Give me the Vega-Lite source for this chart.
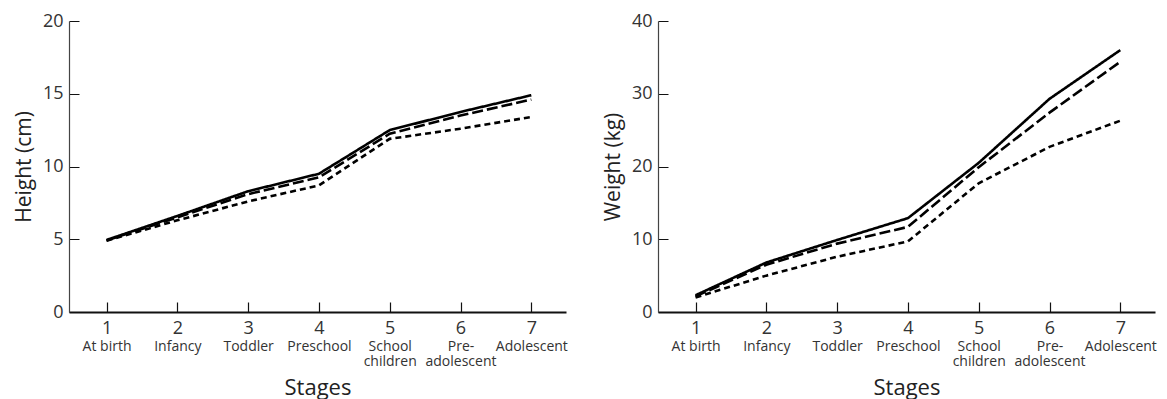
{
  "$schema": "https://vega.github.io/schema/vega-lite/v6.json",
  "padding": {"left": 13, "top": 12, "right": 5, "bottom": 5},
  "spacing": 34,
  "config": {
    "font": "Open Sans",
    "view": {"stroke": null},
    "axis": {"grid": false, "labelColor": "#333", "titleColor": "#222", "titleFontWeight": "normal", "labelFlush": false, "labelOverlap": false}
  },
  "datasets": {
    "height": [
      {"stage": 1, "series": "A", "value": 4.95}, {"stage": 2, "series": "A", "value": 6.6}, {"stage": 3, "series": "A", "value": 8.3}, {"stage": 4, "series": "A", "value": 9.5}, {"stage": 5, "series": "A", "value": 12.5}, {"stage": 6, "series": "A", "value": 13.75}, {"stage": 7, "series": "A", "value": 14.9},
      {"stage": 1, "series": "B", "value": 4.92}, {"stage": 2, "series": "B", "value": 6.5}, {"stage": 3, "series": "B", "value": 8.1}, {"stage": 4, "series": "B", "value": 9.25}, {"stage": 5, "series": "B", "value": 12.25}, {"stage": 6, "series": "B", "value": 13.5}, {"stage": 7, "series": "B", "value": 14.6},
      {"stage": 1, "series": "C", "value": 4.9}, {"stage": 2, "series": "C", "value": 6.3}, {"stage": 3, "series": "C", "value": 7.6}, {"stage": 4, "series": "C", "value": 8.7}, {"stage": 5, "series": "C", "value": 11.9}, {"stage": 6, "series": "C", "value": 12.6}, {"stage": 7, "series": "C", "value": 13.4}
    ],
    "weight": [
      {"stage": 1, "series": "A", "value": 2.3}, {"stage": 2, "series": "A", "value": 6.8}, {"stage": 3, "series": "A", "value": 9.9}, {"stage": 4, "series": "A", "value": 12.9}, {"stage": 5, "series": "A", "value": 20.5}, {"stage": 6, "series": "A", "value": 29.3}, {"stage": 7, "series": "A", "value": 36.0},
      {"stage": 1, "series": "B", "value": 2.15}, {"stage": 2, "series": "B", "value": 6.5}, {"stage": 3, "series": "B", "value": 9.4}, {"stage": 4, "series": "B", "value": 11.7}, {"stage": 5, "series": "B", "value": 19.9}, {"stage": 6, "series": "B", "value": 27.4}, {"stage": 7, "series": "B", "value": 34.4},
      {"stage": 1, "series": "C", "value": 2.0}, {"stage": 2, "series": "C", "value": 5.0}, {"stage": 3, "series": "C", "value": 7.6}, {"stage": 4, "series": "C", "value": 9.7}, {"stage": 5, "series": "C", "value": 17.7}, {"stage": 6, "series": "C", "value": 22.7}, {"stage": 7, "series": "C", "value": 26.3}
    ]
  },
  "hconcat": [
    {
      "width": 497, "height": 291,
      "data": {"name": "height"},
      "layer": [
        {
          "mark": {"type": "line", "color": "black", "strokeWidth": 2.6},
          "encoding": {
            "x": {"field": "stage", "type": "quantitative", "scale": {"domain": [0.47, 7.49], "nice": false, "zero": false},
              "axis": {"values": [1, 2, 3, 4, 5, 6, 7], "format": "d", "title": null, "tickSize": -10, "labelPadding": 17, "labelFontSize": 18, "domainColor": "#111", "domainWidth": 2, "tickColor": "#111", "tickWidth": 1.2}},
            "y": {"field": "value", "type": "quantitative", "scale": {"domain": [0, 20], "nice": false},
              "axis": {"values": [0, 5, 10, 15, 20], "title": "Height (cm)", "tickSize": -10, "labelPadding": 16, "labelFontSize": 18, "domainColor": "#444", "domainWidth": 1.2, "tickColor": "#111", "titleFontSize": 21, "titlePadding": 8}},
            "strokeDash": {"field": "series", "type": "nominal", "scale": {"domain": ["A", "B", "C"], "range": [[1, 0], [11, 4], [6, 4]]}, "legend": null}
          }
        },
        {
          "mark": {"type": "point", "opacity": 0},
          "encoding": {
            "x": {"field": "stage", "type": "quantitative",
              "axis": {"orient": "bottom", "values": [1, 2, 3, 4, 5, 6, 7], "ticks": false, "domain": false, "labelPadding": 27, "labelFontSize": 14, "labelLineHeight": 15,
                "labelExpr": "datum.value == 1 ? 'At birth' : datum.value == 2 ? 'Infancy' : datum.value == 3 ? 'Toddler' : datum.value == 4 ? 'Preschool' : datum.value == 5 ? ['School', 'children'] : datum.value == 6 ? ['Pre-', 'adolescent'] : 'Adolescent'",
                "title": "Stages", "titleFontSize": 22, "titlePadding": 9}},
            "y": {"field": "value", "type": "quantitative"}
          }
        }
      ],
      "resolve": {"axis": {"x": "independent"}}
    },
    {
      "width": 497, "height": 291,
      "data": {"name": "weight"},
      "layer": [
        {
          "mark": {"type": "line", "color": "black", "strokeWidth": 2.6},
          "encoding": {
            "x": {"field": "stage", "type": "quantitative", "scale": {"domain": [0.47, 7.49], "nice": false, "zero": false},
              "axis": {"values": [1, 2, 3, 4, 5, 6, 7], "format": "d", "title": null, "tickSize": -10, "labelPadding": 17, "labelFontSize": 18, "domainColor": "#111", "domainWidth": 2, "tickColor": "#111", "tickWidth": 1.2}},
            "y": {"field": "value", "type": "quantitative", "scale": {"domain": [0, 40], "nice": false},
              "axis": {"values": [0, 10, 20, 30, 40], "title": "Weight (kg)", "tickSize": -10, "labelPadding": 16, "labelFontSize": 18, "domainColor": "#444", "domainWidth": 1.2, "tickColor": "#111", "titleFontSize": 21, "titlePadding": 8}},
            "strokeDash": {"field": "series", "type": "nominal", "scale": {"domain": ["A", "B", "C"], "range": [[1, 0], [11, 4], [6, 4]]}, "legend": null}
          }
        },
        {
          "mark": {"type": "point", "opacity": 0},
          "encoding": {
            "x": {"field": "stage", "type": "quantitative",
              "axis": {"orient": "bottom", "values": [1, 2, 3, 4, 5, 6, 7], "ticks": false, "domain": false, "labelPadding": 27, "labelFontSize": 14, "labelLineHeight": 15,
                "labelExpr": "datum.value == 1 ? 'At birth' : datum.value == 2 ? 'Infancy' : datum.value == 3 ? 'Toddler' : datum.value == 4 ? 'Preschool' : datum.value == 5 ? ['School', 'children'] : datum.value == 6 ? ['Pre-', 'adolescent'] : 'Adolescent'",
                "title": "Stages", "titleFontSize": 22, "titlePadding": 9}},
            "y": {"field": "value", "type": "quantitative"}
          }
        }
      ],
      "resolve": {"axis": {"x": "independent"}}
    }
  ]
}
